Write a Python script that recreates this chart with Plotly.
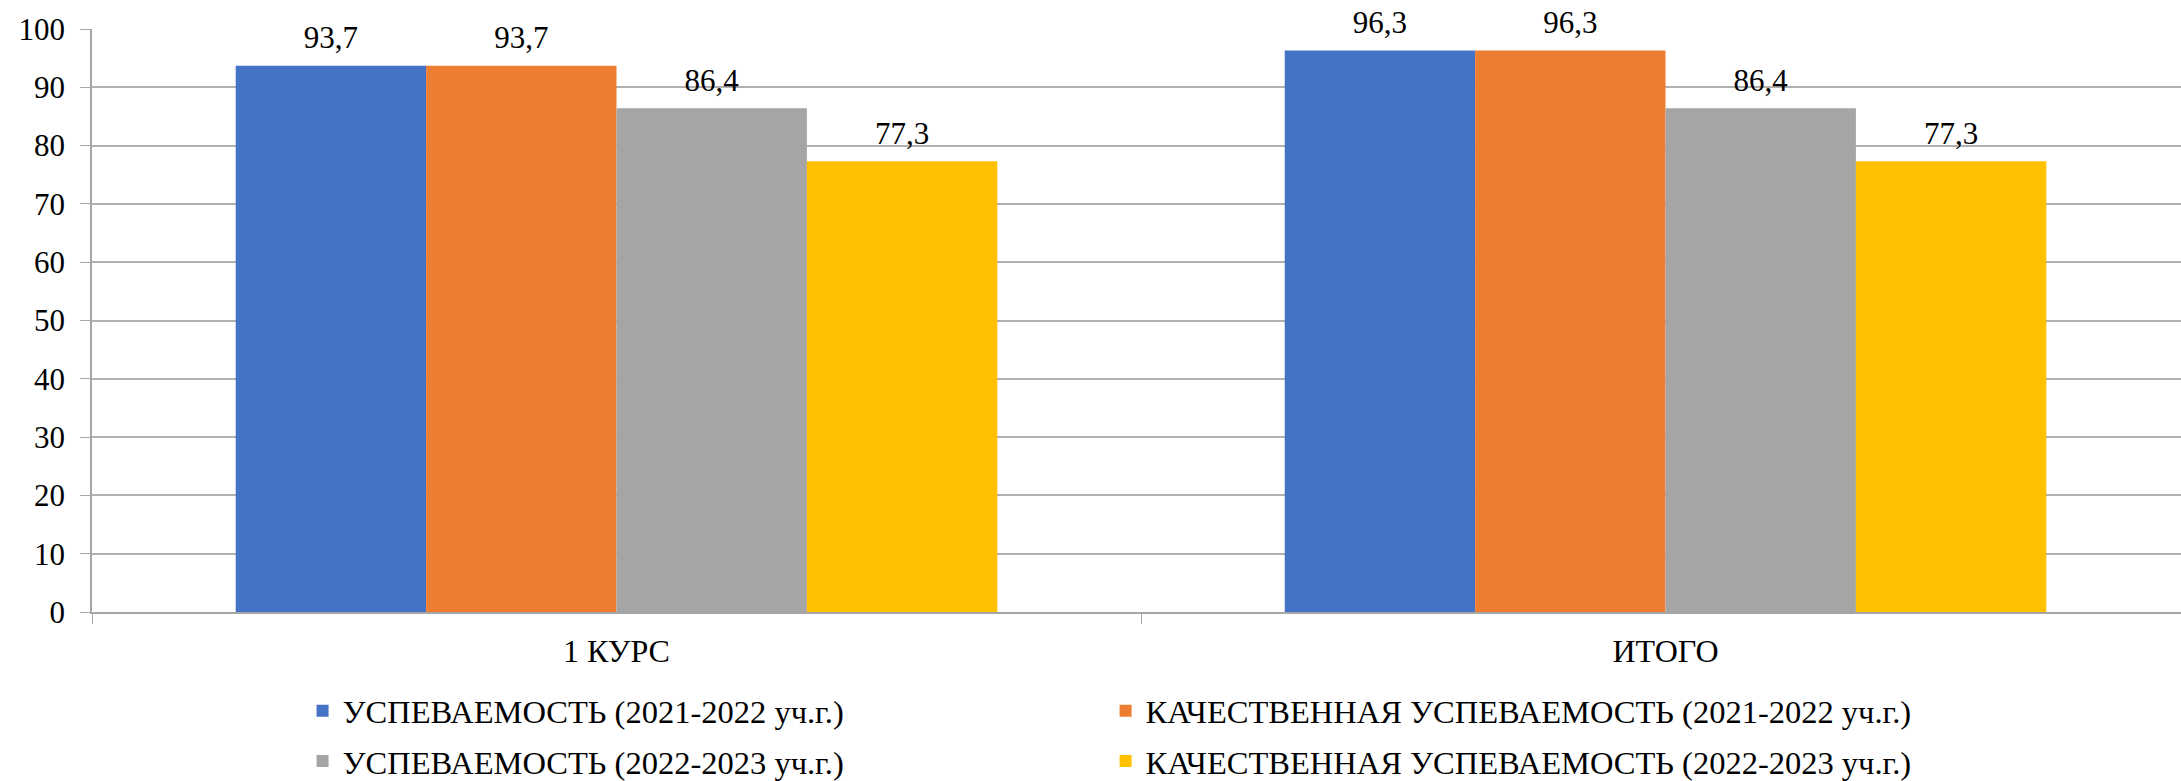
import plotly.graph_objects as go

categories = ["1 КУРС", "ИТОГО"]
series_names = [
    "УСПЕВАЕМОСТЬ (2021-2022 уч.г.)",
    "КАЧЕСТВЕННАЯ УСПЕВАЕМОСТЬ (2021-2022 уч.г.)",
    "УСПЕВАЕМОСТЬ (2022-2023 уч.г.)",
    "КАЧЕСТВЕННАЯ УСПЕВАЕМОСТЬ (2022-2023 уч.г.)",
]
uspev_2122 = [93.7, 96.3]
kach_2122 = [93.7, 96.3]
uspev_2223 = [86.4, 86.4]
kach_2223 = [77.3, 77.3]
colors = ["#4472C4", "#ED7D31", "#A5A5A5", "#FFC000"]
legend_ids = ["legend", "legend2", "legend", "legend2"]
y_ticks = list(range(0, 101, 10))

FONT = "Liberation Serif, Times New Roman, serif"
series_values = [uspev_2122, kach_2122, uspev_2223, kach_2223]

fig = go.Figure()
for i, (name, vals, col, lg) in enumerate(zip(series_names, series_values, colors, legend_ids)):
    fig.add_trace(go.Bar(
        x=categories, y=vals, name=name,
        marker=dict(color=col, line=dict(width=0)),
        legend=lg, legendgroup=f"g{i}", offsetgroup=str(i),
        hoverinfo="x+y+name",
    ))
# value labels, grouped like the bars
for i, vals in enumerate(series_values):
    fig.add_trace(go.Scatter(
        x=categories, y=vals, mode="markers+text",
        text=[f"{v:.1f}".replace(".", ",") for v in vals],
        textposition="top center",
        textfont=dict(family=FONT, size=31, color="black"),
        marker=dict(size=14, opacity=0),
        offsetgroup=str(i), showlegend=False, hoverinfo="skip",
        cliponaxis=False,
    ))

legend_common = dict(
    orientation="v", traceorder="grouped", tracegroupgap=5,
    xanchor="left", yanchor="middle", y=-0.2127,
    font=dict(family=FONT, size=32.5, color="black"),
)

fig.update_layout(
    width=2181, height=781,
    margin=dict(l=92, r=0, t=29, b=169, autoexpand=False),
    paper_bgcolor="white", plot_bgcolor="white",
    separators=", ",
    barmode="group", bargap=0.274, bargroupgap=0,
    scattermode="group", scattergap=0.274,
    font=dict(family=FONT, size=31, color="black"),
    showlegend=True,
    legend=dict(legend_common, x=0.1008),
    legend2=dict(legend_common, x=0.4852),
    xaxis=dict(
        range=[-0.5, 1.4914],
        showline=True, linecolor="#A6A6A6", linewidth=1.5,
        ticks="outside", tickson="boundaries", ticklen=10, tickcolor="#A6A6A6",
        ticklabelstandoff=10,
        showgrid=False,
        tickfont=dict(family=FONT, size=32, color="black"),
    ),
    yaxis=dict(
        range=[0, 100], tickvals=y_ticks,
        showline=True, linecolor="#A6A6A6", linewidth=1.5,
        ticks="outside", ticklen=10, tickcolor="#A6A6A6",
        ticklabelstandoff=9,
        showgrid=True, gridcolor="#B0B0B0", gridwidth=1.5,
        zeroline=False,
        tickfont=dict(family=FONT, size=31, color="black"),
    ),
)

fig.write_html("out.html", config={"displayModeBar": False},
               post_script="document.body.style.margin='0';")
